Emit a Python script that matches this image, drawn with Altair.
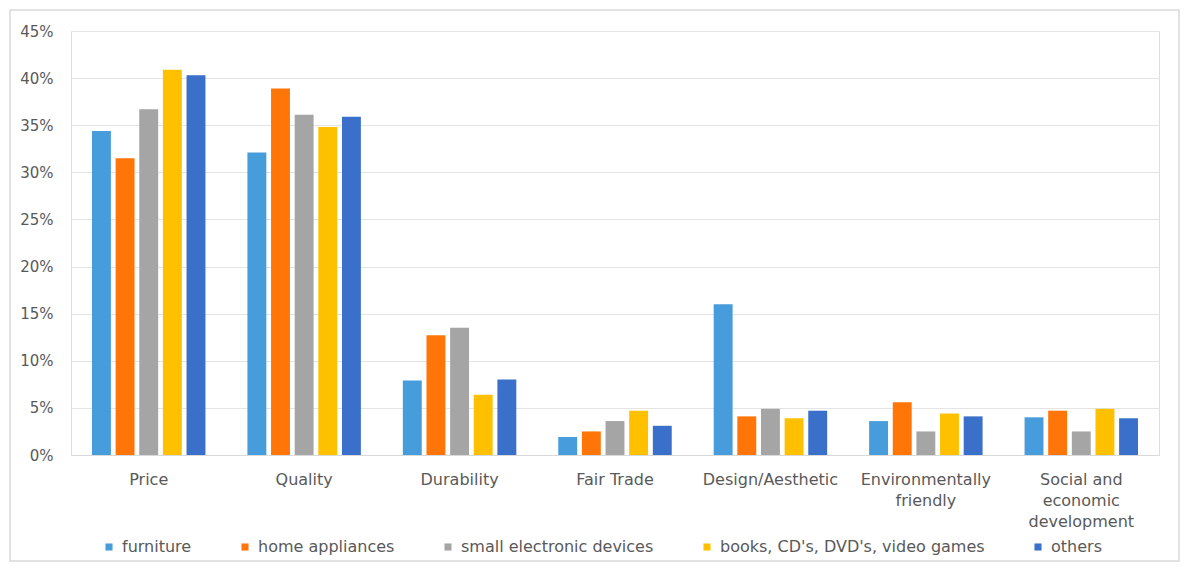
import altair as alt
import pandas as pd

categories = ["Price", "Quality", "Durability", "Fair Trade", "Design/Aesthetic",
              "Environmentally friendly", "Social and economic development"]
series = ["furniture", "home appliances", "small electronic devices",
          "books, CD's, DVD's, video games", "others"]

furniture = [34.4, 32.1, 7.9, 1.9, 16.0, 3.6, 4.0]
home_appliances = [31.5, 38.9, 12.7, 2.5, 4.1, 5.6, 4.7]
small_electronics = [36.7, 36.1, 13.5, 3.6, 4.9, 2.5, 2.5]
books_media = [40.9, 34.8, 6.4, 4.7, 3.9, 4.4, 4.9]
others = [40.3, 35.9, 8.0, 3.1, 4.7, 4.1, 3.9]

y_ticks = [0, 0.05, 0.10, 0.15, 0.20, 0.25, 0.30, 0.35, 0.40, 0.45]
colors = ["#479CDB", "#FF7508", "#A5A5A5", "#FFC000", "#3A70C9"]
FONT = "DejaVu Sans"
TEXT = "#595959"

rows = []
for s, vals in zip(series, [furniture, home_appliances, small_electronics, books_media, others]):
    for c, v in zip(categories, vals):
        rows.append({"category": c, "series": s, "value": v / 100})
df = pd.DataFrame(rows)

label_expr = ("datum.label == 'Environmentally friendly' ? ['Environmentally', 'friendly'] : "
              "datum.label == 'Social and economic development' ? ['Social and', 'economic', 'development'] : "
              "datum.label")

bars = alt.Chart(df).mark_bar().encode(
    x=alt.X("category:N", sort=categories,
            scale=alt.Scale(paddingInner=0.27, paddingOuter=0.135),
            axis=alt.Axis(title=None, labelAngle=0, labelExpr=label_expr, ticks=False,
                          domain=True, domainColor="#d9d9d9", labelPadding=16,
                          labelLineHeight=21, labelFontSize=16, labelColor=TEXT,
                          labelFont=FONT, grid=False)),
    xOffset=alt.XOffset("series:N", sort=series,
                        scale=alt.Scale(paddingInner=0.2, paddingOuter=0)),
    y=alt.Y("value:Q", scale=alt.Scale(domain=[0, 0.45], nice=False),
            axis=alt.Axis(title=None, format=".0%", values=y_ticks, ticks=False,
                          domain=False, grid=True, gridColor="#e4e4e4",
                          labelFontSize=15, labelColor=TEXT, labelFont=FONT,
                          labelPadding=18)),
    color=alt.Color("series:N", sort=series,
                    scale=alt.Scale(domain=series, range=colors),
                    legend=alt.Legend(title=None, orient="none", direction="horizontal",
                                      legendX=30, legendY=508,
                                      symbolType="square", symbolSize=50,
                                      symbolStrokeWidth=0, labelOffset=5,
                                      labelFontSize=16, labelColor=TEXT, labelFont=FONT,
                                      labelLimit=400, columnPadding=45)),
)

border = alt.Chart(pd.DataFrame({"a": [0]})).mark_rect(
    filled=False, stroke="#d9d9d9", strokeWidth=1.5
).encode(
    x=alt.value(-61), x2=alt.value(1108), y=alt.value(-21), y2=alt.value(106 + 424)
)

chart = alt.layer(border, bars).properties(
    width=1088, height=424,
    autosize=alt.AutoSizeParams(type="none"),
    padding={"left": 63, "top": 23, "right": 22, "bottom": 108},
).configure_view(stroke=None).configure(background="white")

chart.save("out.html", embed_options={"renderer": "svg", "actions": False})
